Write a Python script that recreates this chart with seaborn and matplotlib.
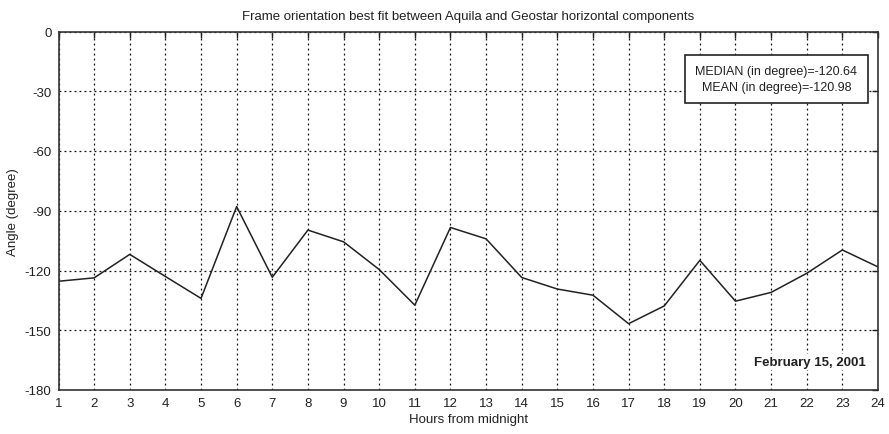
import numpy as np
import pandas as pd
import matplotlib
matplotlib.use("Agg")
import matplotlib.pyplot as plt
import seaborn as sns

# Hourly best-fit frame orientation angle (degrees)
hours = list(range(1, 25))
angle = [-125.4, -123.7, -111.9, -123.0, -134.0, -87.9, -123.4, -99.7,
         -105.6, -119.5, -137.4, -98.4, -104.1, -123.5, -129.3, -132.4,
         -146.7, -137.8, -114.9, -135.4, -131.0, -121.4, -109.7, -118.2]
y_ticks = [0, -30, -60, -90, -120, -150, -180]
median_val = -120.64
mean_val = -120.98
date_label = "February 15, 2001"

sns.set_theme(style="white")
plt.rcParams["font.family"] = ["Liberation Sans", "DejaVu Sans"]
plt.rcParams["axes.unicode_minus"] = False

df = pd.DataFrame({"hour": hours, "angle": angle})

fig = plt.figure(figsize=(8.89, 4.35), dpi=100)
ax = fig.add_axes([58.5 / 889, 1 - 391 / 435, (878 - 58.5) / 889, (391 - 32.5) / 435])

sns.lineplot(data=df, x="hour", y="angle", ax=ax, color="#222222", linewidth=1.1)

ax.set_xlim(1, 24)
ax.set_ylim(-180, 0)
ax.set_xticks(hours)
ax.set_yticks(y_ticks)
ax.grid(True, color="#111111", linestyle=(0, (1.5, 2.5)), linewidth=0.9)
ax.tick_params(axis="both", direction="in", length=4, width=1, color="#222222",
               labelsize=9.5, labelcolor="#222222", top=True, right=True, pad=5)
for s in ax.spines.values():
    s.set_color("#333333")
    s.set_linewidth(1.2)

ax.set_xlabel("Hours from midnight", fontsize=9.5, color="#222222", labelpad=3)
ax.set_ylabel("Angle (degree)", fontsize=9.5, color="#222222", labelpad=4)
ax.set_title("Frame orientation best fit between Aquila and Geostar horizontal components",
             fontsize=9.5, color="#222222", pad=9)

ax.text(0.876, 0.8675,
        f"MEDIAN (in degree)=-{abs(median_val):.2f}\nMEAN (in degree)=-{abs(mean_val):.2f}",
        transform=ax.transAxes, ha="center", va="center", multialignment="center",
        fontsize=9, color="#222222", linespacing=1.35,
        bbox=dict(boxstyle="square,pad=0.85", facecolor="white", edgecolor="#222222", linewidth=1.2))

ax.text(0.9845, 0.077, date_label, transform=ax.transAxes, ha="right", va="center",
        fontsize=9.5, fontweight="bold", color="#222222",
        bbox=dict(boxstyle="square,pad=0.15", facecolor="white", edgecolor="none"))

fig.savefig("out.png", dpi=100, facecolor="white")
